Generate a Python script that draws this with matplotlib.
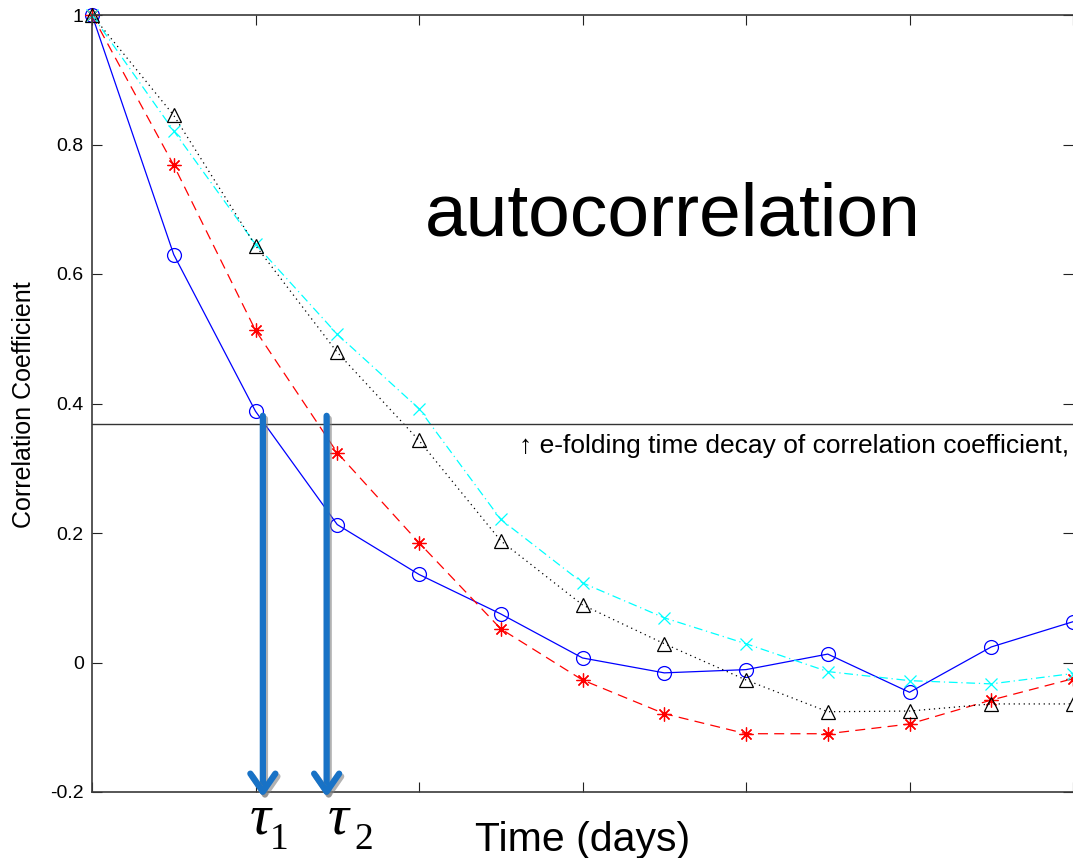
import matplotlib
matplotlib.use('Agg')
import matplotlib.pyplot as plt
import matplotlib.patheffects as pe
from matplotlib.patches import Rectangle
import numpy as np

plt.rcParams['font.family'] = ['Liberation Sans', 'DejaVu Sans']

# lag index (days)
lag = np.arange(13)

corr_circle = [1.0, 0.630, 0.388, 0.213, 0.136, 0.075, 0.007, -0.016, -0.011, 0.013, -0.046, 0.024, 0.063]
corr_star = [1.0, 0.768, 0.513, 0.324, 0.185, 0.052, -0.027, -0.079, -0.110, -0.110, -0.095, -0.058, -0.025]
corr_cross = [1.0, 0.821, 0.646, 0.507, 0.392, 0.221, 0.123, 0.069, 0.029, -0.014, -0.028, -0.033, -0.017]
corr_tri = [1.0, 0.845, 0.644, 0.479, 0.343, 0.188, 0.089, 0.029, -0.027, -0.076, -0.075, -0.064, -0.064]

# e-folding times marked with arrows
tau_days = [2.09, 2.87]
tau_names = ['1', '2']

ytick_vals = [-0.2, 0, 0.2, 0.4, 0.6, 0.8, 1.0]
ytick_labels = ['-0.2', '0', '0.2', '0.4', '0.6', '0.8', '1']

fig = plt.figure(figsize=(10.73, 8.58), dpi=100)
ax = fig.add_axes([92 / 1073, 1 - 792 / 858, (1073 - 92) / 1073, (792 - 15) / 858])

# the four autocorrelation curves
ax.plot(lag, corr_circle, color='blue', lw=0.9, marker='o', ms=10, mfc='none', mew=0.9, clip_on=False)
ax.plot(lag, corr_star, color='red', lw=0.9, ls=(0, (8, 5)), marker=(8, 2, 0), ms=10, mew=0.9, clip_on=False)
ax.plot(lag, corr_cross, color='cyan', lw=0.9, ls=(0, (7, 3, 1, 3)), marker='x', ms=8, mew=0.9, clip_on=False)
ax.plot(lag, corr_tri, color='black', lw=0.9, ls=(0, (1, 3)), marker='^', ms=10, mfc='none', mew=0.9, clip_on=False)

# 1/e line
ax.axhline(np.exp(-1), color='#333333', lw=1.0)

ef = ax.text(0.4353, 0.4363, '\u2191 e-folding time decay of correlation coefficient,',
             transform=ax.transAxes, fontsize=19, ha='left', va='baseline')
clip_rect = Rectangle((0, 0.4363), 1, 1, transform=ax.transAxes)
ef.set_clip_path(clip_rect)

ax.set_xlim(0, 12)
ax.set_ylim(-0.2, 1)
ax.set_xticks(np.arange(0, 13, 2))
ax.set_xticklabels([])
ax.set_yticks(ytick_vals)
ax.set_yticklabels(ytick_labels)
ax.tick_params(direction='in', length=7, width=0.8, top=True, right=True,
               labelsize=14, pad=6, color='#222222')
for s in ax.spines.values():
    s.set_color('#3a3a3a')
    s.set_linewidth(1.2)
ax.spines['right'].set_visible(False)

# tau arrows
arrow_col = '#1872C6'
for t in tau_days:
    ax.annotate('', xy=(t, -0.208), xytext=(t, 0.381),
                arrowprops=dict(arrowstyle='->,head_length=0.65,head_width=0.45',
                                color=arrow_col, lw=4.5, shrinkA=0, shrinkB=0,
                                mutation_scale=20,
                                path_effects=[pe.SimpleLineShadow(offset=(1.5, -2), shadow_color='gray', alpha=0.6),
                                              pe.Normal()]),
                annotation_clip=False)

# labels
fig.text(24 / 1073, 1 - 405 / 858, 'Correlation Coefficient', rotation=90,
         fontsize=18, ha='center', va='center')
fig.text(583 / 1073, 1 - 851 / 858, 'Time (days)', fontsize=29.5, ha='center', va='baseline')
fig.text(673 / 1073, 1 - 236 / 858, 'autocorrelation', fontsize=54, ha='center', va='baseline')

tau_x = [(260, 279), (338, 364)]
for (xt, xs), name in zip(tau_x, tau_names):
    fig.text(xt / 1073, 1 - 833 / 858, '\u03c4', fontsize=42, family='Liberation Serif',
             style='italic', ha='center', va='baseline')
    fig.text(xs / 1073, 1 - 849 / 858, name, fontsize=27, family='Liberation Serif',
             ha='center', va='baseline')

fig.savefig('out.png', dpi=100)
